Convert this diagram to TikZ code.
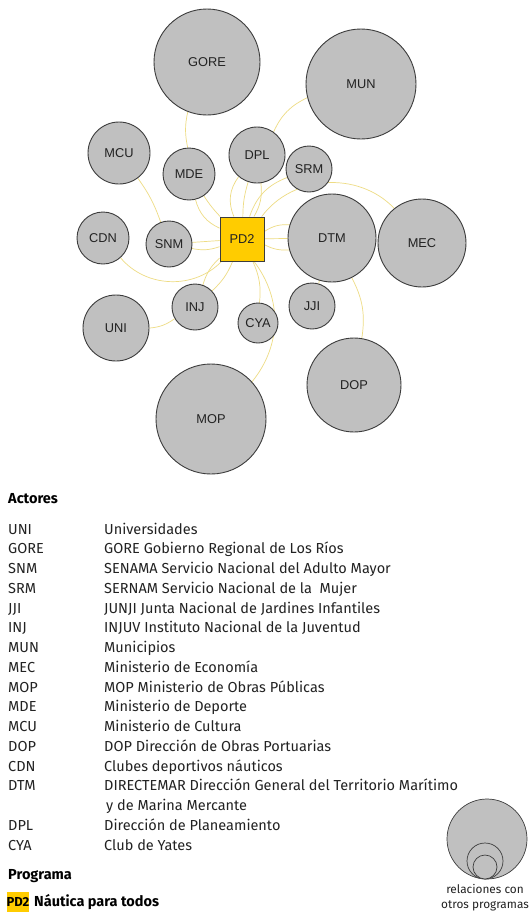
\documentclass[tikz,border=0pt]{standalone}
\usepackage{fontspec}
\setmainfont{Fira Sans}
\newfontfamily\arialfont{Liberation Sans}
\usetikzlibrary{positioning, backgrounds}
\definecolor{Gris}{HTML}{C0C0C0}
\definecolor{Borde}{HTML}{3C3C3C}
\definecolor{Oro}{HTML}{FFCC00}
\definecolor{Enlace}{HTML}{EEDC84}
\definecolor{Texto}{HTML}{222222}
\tikzset{
    actor/.style={circle, draw=Borde, line width=0.9pt, fill=Gris, minimum size=#1, inner sep=0pt, text=Texto, font=\arialfont\fontsize{12.8}{14}\selectfont},
    programa/.style={rectangle, draw=Borde, line width=0.9pt, fill=Oro, minimum size=44, inner sep=0pt, text=Texto, font=\arialfont\fontsize{12.8}{14}\selectfont},
    enlace/.style={draw=Enlace, line width=0.7pt},
    sigla/.style={anchor=base west, inner sep=0pt, text=Texto, font=\fontsize{14.5}{17}\selectfont},
    titulo/.style={anchor=base west, inner sep=0pt, text=black, font=\bfseries\fontsize{14.5}{17}\selectfont},
    muestra/.style={circle, draw=Borde, line width=0.7pt, fill=Gris, minimum size=#1, inner sep=0pt},
}
\begin{document}
\begin{tikzpicture}[x=1pt, y=1pt]
    \useasboundingbox (0,0) rectangle (532,-914);

    % Programa
    \node[programa] (PD2) at (242,-239) {PD2};

    % Actores
    \node[actor=106] (GORE) at (207,-62) {GORE};
    \node[actor=110] (MUN) at (361,-84) {MUN};
    \node[actor=62] (MCU) at (119,-153) {MCU};
    \node[actor=52] (MDE) at (189,-174) {MDE};
    \node[actor=56] (DPL) at (257,-155) {DPL};
    \node[actor=46] (SRM) at (309,-169) {SRM};
    \node[actor=52] (CDN) at (103,-238) {CDN};
    \node[actor=46] (SNM) at (169,-244) {SNM};
    \node[actor=88] (DTM) at (332,-238) {DTM};
    \node[actor=88] (MEC) at (422,-243) {MEC};
    \node[actor=46] (INJ) at (195,-307) {INJ};
    \node[actor=66] (UNI) at (116,-328) {UNI};
    \node[actor=40] (CYA) at (258,-323) {CYA};
    \node[actor=46] (JJI) at (312,-306) {JJI};
    \node[actor=94] (DOP) at (354,-385) {DOP};
    \node[actor=110] (MOP) at (211,-419) {MOP};

    % Relaciones
    \begin{scope}[on background layer]
        \fill[white] (0,0) rectangle (532,-914);
        \draw[enlace] (GORE) to[bend right=12] (MDE);
        \draw[enlace] (MUN) to[bend right=20] (DPL);
        \draw[enlace] (MCU) to[bend left=8] (SNM);
        \draw[enlace] (MDE) to[bend right=25] (PD2);
        \draw[enlace] (MDE) to[bend right=5] (PD2);
        \draw[enlace] (DPL) to[bend right=30] (PD2);
        \draw[enlace] (DPL) to[bend right=8] (PD2);
        \draw[enlace] (DPL) to[bend left=18] (PD2);
        \draw[enlace] (SRM) to[bend right=25] (PD2);
        \draw[enlace] (PD2) to[bend left=18] (DTM);
        \draw[enlace] (PD2) to (DTM);
        \draw[enlace] (PD2) to[bend right=15] (DTM);
        \draw[enlace] (PD2) to[bend left=50] (MEC);
        \draw[enlace] (SNM) -- (PD2);
        \draw[enlace] (SNM) to[bend right=15] (PD2);
        \draw[enlace] (CDN) to[bend right=48] (PD2);
        \draw[enlace] (PD2) to[bend left=12] (INJ);
        \draw[enlace] (PD2) to[bend right=15] (INJ);
        \draw[enlace] (UNI) to[bend right=15] (INJ);
        \draw[enlace] (PD2) to[bend left=15] (CYA);
        \draw[enlace] (PD2) to[bend left=38] (MOP);
        \draw[enlace] (DTM) -- (JJI);
        \draw[enlace] (DTM) to[bend left=18] (DOP);
    \end{scope}

    % Leyenda de actores
    \node[titulo] (actores) at (8,-503) {Actores};
    \foreach \abr/\desc [count=\i from 0] in {
        UNI/Universidades,
        GORE/GORE Gobierno Regional de Los Ríos,
        SNM/SENAMA Servicio Nacional del Adulto Mayor,
        SRM/SERNAM Servicio Nacional de la\ \ Mujer,
        JJI/JUNJI Junta Nacional de Jardines Infantiles,
        INJ/INJUV Instituto Nacional de la Juventud,
        MUN/Municipios,
        MEC/Ministerio de Economía,
        MOP/MOP Ministerio de Obras Públicas,
        MDE/Ministerio de Deporte,
        MCU/Ministerio de Cultura,
        DOP/DOP Dirección de Obras Portuarias,
        CDN/Clubes deportivos náuticos,
        DTM/DIRECTEMAR Dirección General del Territorio Marítimo,
        /\hspace{2pt}y de Marina Mercante,
        DPL/Dirección de Planeamiento,
        CYA/Club de Yates} {
        \node[sigla] (sig-\i) at (8,{-534-19.75*\i}) {\abr};
        \node[sigla] (des-\i) at (104,{-534-19.75*\i}) {\desc};
    }

    % Leyenda de programa
    \node[titulo] (programa) at (8,-879) {Programa};
    \node[rectangle, fill=Oro, minimum width=21, minimum height=20, inner sep=0pt, font=\bfseries\fontsize{13}{16}\selectfont] (pd2-ley) at (18,-902) {PD2};
    \node[titulo, anchor=west] (nombre) at (34,-902) {Náutica para todos};

    % Tamaños
    \node[muestra=80] (grande) at (487,-839) {};
    \node[muestra=36] (medio) at (485,-861) {};
    \node[muestra=24] (chico) at (485,-867) {};
    \node[inner sep=0pt, text=Texto, font=\fontsize{11.8}{15}\selectfont, align=center] (rel) at (485,-898) {relaciones con\\otros programas};
\end{tikzpicture}
\end{document}
